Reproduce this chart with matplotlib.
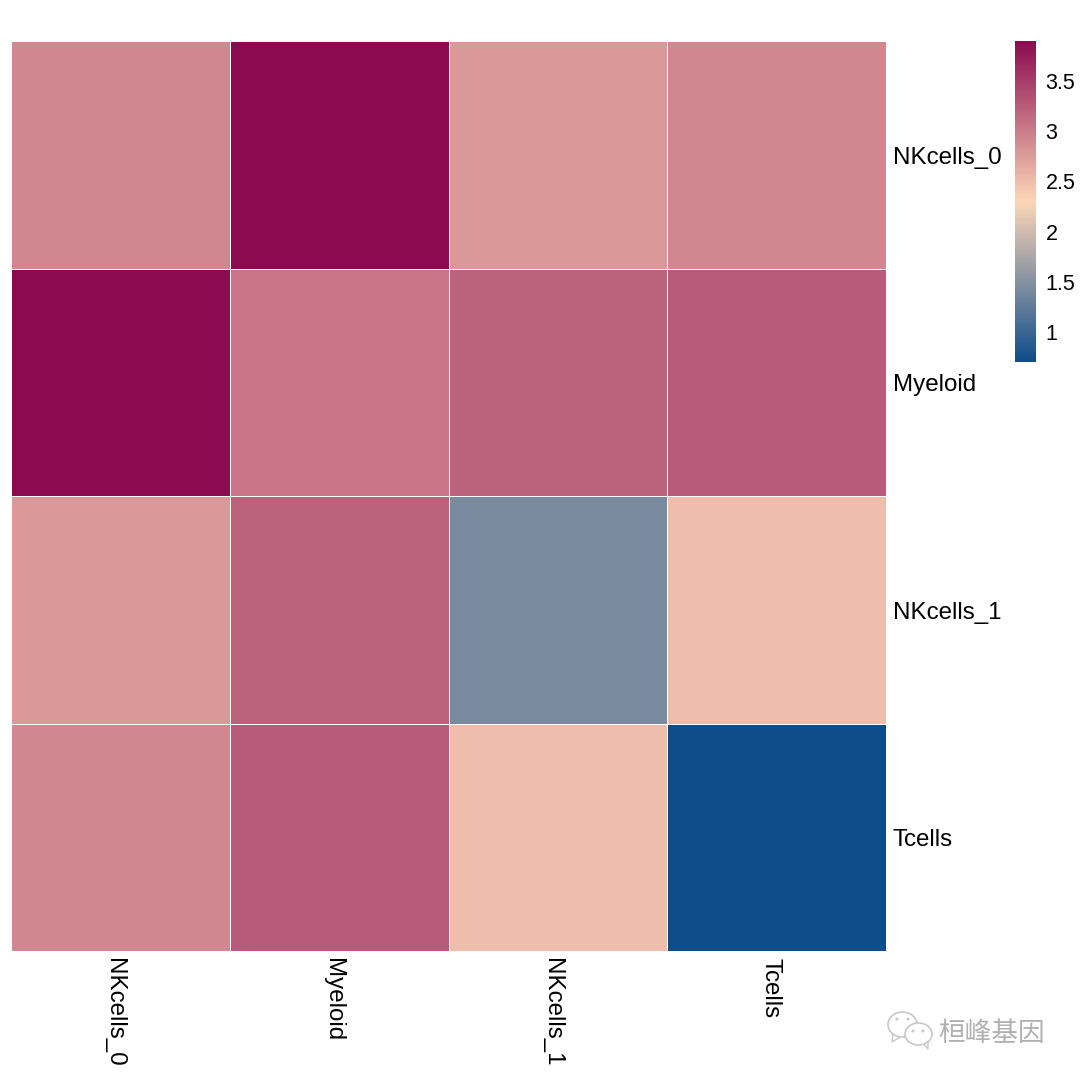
import numpy as np
import matplotlib
matplotlib.use("Agg")
import matplotlib.pyplot as plt
from matplotlib.colors import LinearSegmentedColormap
from matplotlib.patches import Ellipse, Polygon
from matplotlib.transforms import ScaledTranslation

# Data
row_labels = ["NKcells_0", "Myeloid", "NKcells_1", "Tcells"]
col_labels = ["NKcells_0", "Myeloid", "NKcells_1", "Tcells"]
row_nk0 = [2.92, 3.90, 2.78, 2.92]
row_mye = [3.90, 3.06, 3.21, 3.27]
row_nk1 = [2.78, 3.21, 1.43, 2.49]
row_tce = [2.92, 3.27, 2.49, 0.70]
cbar_ticks = [1, 1.5, 2, 2.5, 3, 3.5]
cbar_labels = ["1", "1.5", "2", "2.5", "3", "3.5"]

W = 1080.0


def box(x0, y0, x1, y1):
    # pixel box (from top left) to figure fractions
    return [x0 / W, 1 - y1 / W, (x1 - x0) / W, (y1 - y0) / W]


def fx(x):
    return x / W


def fy(y):
    return 1 - y / W


plt.rcParams['font.family'] = ['Liberation Sans', 'Noto Sans CJK SC', 'DejaVu Sans']

cmap = LinearSegmentedColormap.from_list("rb", ["#0F4C8A", "#FDD6B8", "#8B0A50"], N=256)
values = np.array([row_nk0, row_mye, row_nk1, row_tce])

fig = plt.figure(figsize=(10.8, 10.8), dpi=100)
ax = fig.add_axes(box(11, 41, 886, 951))
mesh = ax.pcolormesh(values, cmap=cmap, vmin=0.7, vmax=3.9, edgecolors="white", linewidth=0.7)
ax.invert_yaxis()
for s in ax.spines.values():
    s.set_visible(False)
ax.tick_params(length=0)
ax.set_xticks(np.arange(4) + 0.5)
ax.set_xticklabels(col_labels, rotation=270, fontsize=17.4, ha="center", va="top")
ax.yaxis.tick_right()
ax.set_yticks(np.arange(4) + 0.5)
ax.set_yticklabels(row_labels, fontsize=17.4, va="center")
ax.tick_params(axis="x", pad=5)
ax.tick_params(axis="y", pad=5)

# small nudges in inches, labels sit a bit off the cell centres
shift_x = ScaledTranslation(-6 / 100, 0, fig.dpi_scale_trans)
shift_y = ScaledTranslation(0, -3 / 100, fig.dpi_scale_trans)
for t in ax.get_xticklabels():
    t.set_transform(t.get_transform() + shift_x)
for t in ax.get_yticklabels():
    t.set_transform(t.get_transform() + shift_y)

# Colorbar
cax = fig.add_axes(box(1015, 41, 1036, 362))
cb = fig.colorbar(mesh, cax=cax)
cb.outline.set_visible(False)
cb.set_ticks(cbar_ticks)
cb.set_ticklabels(cbar_labels)
cb.ax.tick_params(length=0, labelsize=15.5, pad=7)

# Watermark
fig.text(fx(938), fy(1034), "桓峰基因", fontsize=19.2, color="#b0b0b0", va="center", ha="left")
grey = "#c8c8c8"
fig.add_artist(Polygon([(fx(893), fy(1032)), (fx(892), fy(1042)), (fx(902), fy(1036))],
                       closed=True, transform=fig.transFigure, facecolor="white", edgecolor=grey, linewidth=1))
fig.add_artist(Ellipse((fx(902.5), fy(1024.5)), 29 / W, 25 / W, transform=fig.transFigure,
                       facecolor="white", edgecolor=grey, linewidth=1.2))
fig.add_artist(Polygon([(fx(923), fy(1043)), (fx(928), fy(1049)), (fx(928), fy(1040))],
                       closed=True, transform=fig.transFigure, facecolor="white", edgecolor=grey, linewidth=1))
fig.add_artist(Ellipse((fx(918.5), fy(1034)), 27 / W, 22 / W, transform=fig.transFigure,
                       facecolor="white", edgecolor=grey, linewidth=1.2))
for ex, ey in [(897, 1019), (908, 1019), (913, 1031), (923, 1031)]:
    fig.add_artist(Ellipse((fx(ex), fy(ey)), 3 / W, 3 / W, transform=fig.transFigure,
                           facecolor=grey, edgecolor="none"))

fig.savefig("out.png", dpi=100)
